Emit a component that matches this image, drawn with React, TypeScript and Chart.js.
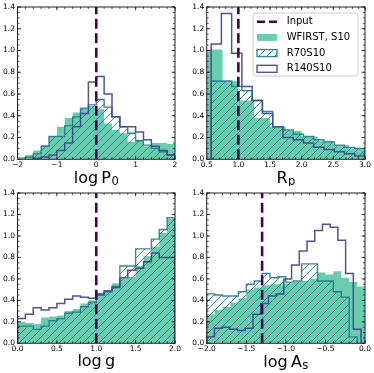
import React, { useEffect, useRef } from "react";
import { Chart, registerables } from "chart.js";
Chart.register(...registerables);

// ---------------- data ----------------
// panel 1: log P0
const logP0Ticks = [-2, -1, 0, 1, 2];
const logP0Input = 0;
const logP0WfirstRange = [-2, 2];
const logP0Wfirst = [0.02, 0.04, 0.08, 0.13, 0.21, 0.30, 0.38, 0.43, 0.47, 0.49, 0.46, 0.33, 0.27, 0.24, 0.16, 0.18, 0.12, 0.15, 0.15, 0.14];
const logP0R70Range = [-1.8, 2];
const logP0R70 = [0.02, 0.05, 0.12, 0.21, 0.21, 0.31, 0.39, 0.47, 0.50, 0.55, 0.48, 0.39, 0.30, 0.24, 0.17, 0.13, 0.10, 0.07, 0.04];
const logP0R140Range = [-1.6, 2];
const logP0R140 = [0.01, 0.02, 0.04, 0.08, 0.15, 0.30, 0.42, 0.71, 0.76, 0.60, 0.39, 0.30, 0.30, 0.25, 0.18, 0.12, 0.08, 0.04];

// panel 2: Rp
const rpTicks = [0.5, 1.0, 1.5, 2.0, 2.5, 3.0];
const rpInput = 1.0;
const rpWfirstRange = [0.5, 3.0];
const rpWfirst = [1.01, 0.72, 0.54, 0.38, 0.30, 0.26, 0.21, 0.17, 0.13, 0.10];
const rpR70Range = [0.57, 3.0];
const rpR70 = [0.72, 0.72, 0.67, 0.63, 0.54, 0.44, 0.30, 0.27, 0.23, 0.21, 0.18, 0.16, 0.13, 0.11, 0.10];
const rpR140Range = [0.57, 3.0];
const rpR140 = [1.06, 1.34, 0.975, 0.67, 0.54, 0.42, 0.30, 0.20, 0.18, 0.15, 0.11, 0.09, 0.07, 0.05, 0.03];

// panel 3: log g
const loggTicks = [0.0, 0.5, 1.0, 1.5, 2.0];
const loggInput = 1.0;
const loggWfirstRange = [0, 2];
const loggWfirst = [0.20, 0.19, 0.18, 0.24, 0.25, 0.26, 0.30, 0.32, 0.37, 0.40, 0.47, 0.48, 0.56, 0.60, 0.62, 0.72, 0.81, 0.90, 1.03, 1.16];
const loggR70Range = [0, 2];
const loggR70 = [0.16, 0.16, 0.13, 0.16, 0.21, 0.23, 0.28, 0.29, 0.34, 0.38, 0.46, 0.48, 0.53, 0.72, 0.72, 0.88, 0.88, 0.97, 1.06, 1.17];
const loggR140Range = [0, 2];
const loggR140 = [0.23, 0.27, 0.33, 0.31, 0.33, 0.37, 0.41, 0.44, 0.43, 0.42, 0.45, 0.49, 0.52, 0.61, 0.68, 0.70, 0.76, 0.84, 0.80, 0.80];

// panel 4: log As
const logAsTicks = [-2.0, -1.5, -1.0, -0.5, 0.0];
const logAsInput = -1.3;
const logAsWfirstRange = [-2, 0];
const logAsWfirst = [0.27, 0.31, 0.34, 0.38, 0.42, 0.50, 0.52, 0.54, 0.55, 0.55, 0.56, 0.57, 0.58, 0.60, 0.66, 0.64, 0.67, 0.61, 0.57, 0.53];
const logAsR70Range = [-2, -0.1];
const logAsR70 = [0.46, 0.45, 0.44, 0.44, 0.48, 0.55, 0.58, 0.65, 0.61, 0.62, 0.57, 0.58, 0.74, 0.74, 0.58, 0.58, 0.48, 0.43, 0.06];
const logAsR140Range = [-2, -0.05];
const logAsR140 = [0.06, 0.14, 0.15, 0.13, 0.12, 0.14, 0.27, 0.37, 0.44, 0.46, 0.60, 0.73, 0.86, 0.95, 1.05, 1.11, 1.08, 0.96, 0.65, 0.13];

const yTicks = [0.0, 0.2, 0.4, 0.6, 0.8, 1.0, 1.2, 1.4];
const legendLabels = ["Input", "WFIRST, S10", "R70S10", "R140S10"];

// axis titles: [prefix, main symbol, subscript]
const logP0Title = ["log", "P", "0"];
const rpTitle = ["", "R", "p"];
const loggTitle = ["log", "g", ""];
const logAsTitle = ["log", "A", "s"];

// ---------------- styles ----------------
const FONT = "DejaVu Sans";
const C_INPUT = "#440154";
const C_GREEN = "rgb(104,205,172)";
const C_R70 = "rgba(40,120,142,0.9)";
const C_HATCH = "rgba(40,120,142,0.85)";
const C_R140 = "rgba(62,70,138,0.92)";

function stepPoints(range: number[], values: number[]) {
  const [lo, hi] = range;
  const n = values.length;
  const w = (hi - lo) / n;
  const pts = [{ x: lo, y: 0 }];
  values.forEach((v, i) => pts.push({ x: lo + i * w, y: v }));
  pts.push({ x: hi, y: 0 });
  return pts;
}

function makeHatch(ctx: CanvasRenderingContext2D) {
  const s = 8;
  const t = document.createElement("canvas");
  t.width = s;
  t.height = s;
  const g = t.getContext("2d")!;
  g.strokeStyle = C_HATCH;
  g.lineWidth = 1;
  g.beginPath();
  g.moveTo(0, s);
  g.lineTo(s, 0);
  g.moveTo(-1, 1);
  g.lineTo(1, -1);
  g.moveTo(s - 1, s + 1);
  g.lineTo(s + 1, s - 1);
  g.stroke();
  return ctx.createPattern(t, "repeat")!;
}

const fmt = (v: number, dec: number) => Number(v).toFixed(dec).replace("-", "\u2212");

function framePlugin(xMinor: number) {
  return {
    id: "frameTicks",
    afterDraw(chart: any) {
      const { ctx, chartArea: a, scales } = chart;
      const x = scales.x, y = scales.y;
      ctx.save();
      ctx.strokeStyle = "#222";
      ctx.lineWidth = 0.8;
      ctx.beginPath();
      const tick = (px: number, len: number, horiz: boolean) => {
        if (horiz) {
          ctx.moveTo(px, a.bottom); ctx.lineTo(px, a.bottom - len);
          ctx.moveTo(px, a.top); ctx.lineTo(px, a.top + len);
        } else {
          ctx.moveTo(a.left, px); ctx.lineTo(a.left + len, px);
          ctx.moveTo(a.right, px); ctx.lineTo(a.right - len, px);
        }
      };
      const nx = Math.round((x.max - x.min) / xMinor);
      for (let i = 0; i <= nx; i++) tick(x.getPixelForValue(x.min + i * xMinor), 2, true);
      x.ticks.forEach((t: any) => tick(x.getPixelForValue(t.value), 3.5, true));
      for (let i = 0; i <= 28; i++) tick(y.getPixelForValue(i * 0.05), 2, false);
      y.ticks.forEach((t: any) => tick(y.getPixelForValue(t.value), 3.5, false));
      ctx.stroke();
      ctx.lineWidth = 1;
      ctx.strokeRect(a.left, a.top, a.right - a.left, a.bottom - a.top);
      ctx.restore();
    },
  };
}

function titlePlugin(parts: string[], baseline: number) {
  return {
    id: "mathTitle",
    afterDraw(chart: any) {
      const { ctx, chartArea: a } = chart;
      const [pre, main, sub] = parts;
      ctx.save();
      ctx.fillStyle = "#000";
      ctx.textBaseline = "alphabetic";
      ctx.textAlign = "left";
      const big = `16px "${FONT}"`;
      const small = `11.5px "${FONT}"`;
      ctx.font = big;
      const wPre = pre ? ctx.measureText(pre).width : 0;
      const gap = pre ? 3.2 : 0;
      const wMain = ctx.measureText(main).width;
      ctx.font = small;
      const wSub = sub ? ctx.measureText(sub).width + 0.5 : 0;
      const total = wPre + gap + wMain + wSub;
      let x = (a.left + a.right) / 2 - total / 2;
      ctx.font = big;
      if (pre) { ctx.fillText(pre, x, baseline); x += wPre + gap; }
      ctx.fillText(main, x, baseline);
      x += wMain + 0.5;
      if (sub) { ctx.font = small; ctx.fillText(sub, x, baseline + 2.6); }
      ctx.restore();
    },
  };
}

function legendPlugin(hatch: CanvasPattern) {
  return {
    id: "legendBox",
    afterDraw(chart: any) {
      const { ctx, chartArea: a } = chart;
      const w = 105, h = 63;
      const x0 = a.right - 7 - w, y0 = a.top + 6;
      ctx.save();
      ctx.beginPath();
      ctx.roundRect(x0, y0, w, h, 3);
      ctx.fillStyle = "rgba(255,255,255,0.85)";
      ctx.fill();
      ctx.strokeStyle = "#cccccc";
      ctx.lineWidth = 1;
      ctx.stroke();
      legendLabels.forEach((lab, i) => {
        const cy = y0 + 8.7 + i * 15.7;
        const hx = x0 + 4, hw = 20, hh = 7;
        if (i === 0) {
          ctx.beginPath();
          ctx.setLineDash([8, 4]);
          ctx.strokeStyle = C_INPUT;
          ctx.lineWidth = 2.6;
          ctx.moveTo(hx, cy);
          ctx.lineTo(hx + hw, cy);
          ctx.stroke();
          ctx.setLineDash([]);
        } else if (i === 1) {
          ctx.fillStyle = C_GREEN;
          ctx.fillRect(hx, cy - hh / 2, hw, hh);
        } else if (i === 2) {
          ctx.fillStyle = hatch;
          ctx.fillRect(hx, cy - hh / 2, hw, hh);
          ctx.strokeStyle = C_R70;
          ctx.lineWidth = 1.4;
          ctx.strokeRect(hx, cy - hh / 2, hw, hh);
        } else {
          ctx.fillStyle = "#fff";
          ctx.fillRect(hx, cy - hh / 2, hw, hh);
          ctx.strokeStyle = C_R140;
          ctx.lineWidth = 1.4;
          ctx.strokeRect(hx, cy - hh / 2, hw, hh);
        }
        ctx.fillStyle = "#000";
        ctx.font = `10px "${FONT}"`;
        ctx.textBaseline = "middle";
        ctx.textAlign = "left";
        ctx.fillText(lab, x0 + 33.7, cy);
      });
      ctx.restore();
    },
  };
}

type PanelCfg = {
  left: number; top: number; w: number; h: number;
  L: number; T: number; R: number; H: number;
  title: string[]; titleBase: number;
  xMin: number; xMax: number; xTicks: number[]; xDec: number; xMinor: number;
  input: number;
  wfRange: number[]; wf: number[];
  r70Range: number[]; r70: number[];
  r140Range: number[]; r140: number[];
  legend: boolean;
};

const panels: PanelCfg[] = [
  { left: 0, top: 0, w: 187, h: 186, L: 17.5, T: 6, R: 12, H: 26.7, title: logP0Title, titleBase: 182.7,
    xMin: -2, xMax: 2, xTicks: logP0Ticks, xDec: 0, xMinor: 0.2, input: logP0Input,
    wfRange: logP0WfirstRange, wf: logP0Wfirst, r70Range: logP0R70Range, r70: logP0R70, r140Range: logP0R140Range, r140: logP0R140, legend: false },
  { left: 187, top: 0, w: 187, h: 186, L: 19.7, T: 6, R: 9, H: 26.7, title: rpTitle, titleBase: 182.7,
    xMin: 0.5, xMax: 3.0, xTicks: rpTicks, xDec: 1, xMinor: 0.1, input: rpInput,
    wfRange: rpWfirstRange, wf: rpWfirst, r70Range: rpR70Range, r70: rpR70, r140Range: rpR140Range, r140: rpR140, legend: true },
  { left: 0, top: 186, w: 187, h: 187, L: 17.5, T: 4.7, R: 12, H: 29.7, title: loggTitle, titleBase: 180,
    xMin: 0, xMax: 2, xTicks: loggTicks, xDec: 1, xMinor: 0.1, input: loggInput,
    wfRange: loggWfirstRange, wf: loggWfirst, r70Range: loggR70Range, r70: loggR70, r140Range: loggR140Range, r140: loggR140, legend: false },
  { left: 187, top: 186, w: 187, h: 187, L: 19.7, T: 4.7, R: 9, H: 29.7, title: logAsTitle, titleBase: 180.5,
    xMin: -2, xMax: 0, xTicks: logAsTicks, xDec: 1, xMinor: 0.1, input: logAsInput,
    wfRange: logAsWfirstRange, wf: logAsWfirst, r70Range: logAsR70Range, r70: logAsR70, r140Range: logAsR140Range, r140: logAsR140, legend: false },
];

function Panel({ cfg }: { cfg: PanelCfg }) {
  const ref = useRef<HTMLCanvasElement>(null);
  useEffect(() => {
    const canvas = ref.current!;
    const ctx = canvas.getContext("2d")!;
    const hatch = makeHatch(ctx);
    const plugins: any[] = [framePlugin(cfg.xMinor), titlePlugin(cfg.title, cfg.titleBase)];
    if (cfg.legend) plugins.push(legendPlugin(hatch));
    const chart = new Chart(canvas, {
      type: "line",
      data: {
        datasets: [
          { label: "Input", data: [{ x: cfg.input, y: 0 }, { x: cfg.input, y: 1.4 }], borderColor: C_INPUT,
            borderWidth: 2.6, borderDash: [10, 4.5], fill: false, pointRadius: 0, order: 0 },
          { label: "R140S10", data: stepPoints(cfg.r140Range, cfg.r140), stepped: true, borderColor: C_R140,
            borderWidth: 1.5, fill: false, pointRadius: 0, order: 1 },
          { label: "R70S10", data: stepPoints(cfg.r70Range, cfg.r70), stepped: true, borderColor: C_R70,
            borderWidth: 1.4, backgroundColor: hatch, fill: "origin", pointRadius: 0, order: 2 },
          { label: "WFIRST, S10", data: stepPoints(cfg.wfRange, cfg.wf), stepped: true, borderColor: "rgba(0,0,0,0)",
            borderWidth: 1, backgroundColor: C_GREEN, fill: "origin", pointRadius: 0, order: 3 },
        ] as any,
      },
      options: {
        animation: false,
        responsive: false,
        devicePixelRatio: 1,
        layout: { padding: { left: 0, top: cfg.T, right: cfg.R, bottom: 0 } },
        plugins: { legend: { display: false }, tooltip: { enabled: false } },
        scales: {
          x: {
            type: "linear", min: cfg.xMin, max: cfg.xMax,
            afterBuildTicks: (s: any) => { s.ticks = cfg.xTicks.map((v) => ({ value: v })); },
            afterFit: (s: any) => { s.height = cfg.H; },
            ticks: { callback: (v: any) => fmt(v, cfg.xDec), color: "#000", padding: 1, maxRotation: 0,
              autoSkip: false, font: { family: FONT, size: 7.5 } },
            grid: { display: false, drawTicks: false },
            border: { display: false },
            title: { display: false },
          },
          y: {
            type: "linear", min: 0, max: 1.4,
            afterBuildTicks: (s: any) => { s.ticks = yTicks.map((v) => ({ value: v })); },
            afterFit: (s: any) => { s.width = cfg.L; },
            ticks: { callback: (v: any) => fmt(v, 1), color: "#000", padding: 2.5, autoSkip: false,
              font: { family: FONT, size: 7.5 } },
            grid: { display: false, drawTicks: false },
            border: { display: false },
          },
        },
      } as any,
      plugins,
    });
    return () => chart.destroy();
  }, []);
  return (
    <canvas ref={ref} width={cfg.w} height={cfg.h}
      style={{ position: "absolute", left: cfg.left, top: cfg.top, width: cfg.w, height: cfg.h }} />
  );
}

export default function App() {
  return (
    <div style={{ position: "fixed", left: 0, top: 0, width: 374, height: 373, background: "#fff" }}>
      {panels.map((p, i) => <Panel key={i} cfg={p} />)}
    </div>
  );
}
